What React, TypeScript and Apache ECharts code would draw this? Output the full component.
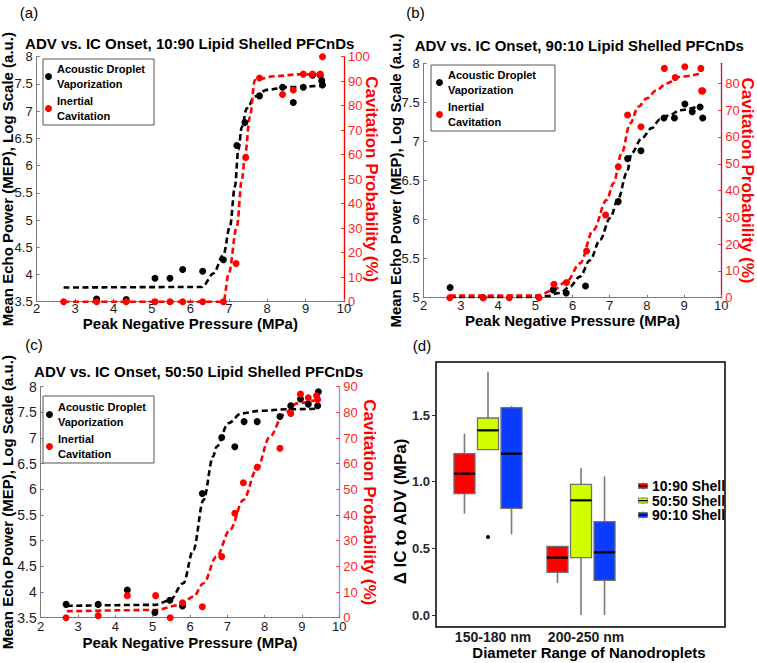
import React, { useEffect, useRef } from 'react';
import * as echarts from 'echarts';

const FONT = "'Liberation Sans', Arial, Helvetica, sans-serif";
const LEGEND_FONT = "'Liberation Sans', Arial, sans-serif";

// ---------- Panel (a): 10:90 ----------
const advA_x = [3.56, 4.33, 5.08, 5.47, 5.8, 6.32, 6.86, 7.21, 7.42, 7.8, 8.4, 8.68, 8.94, 9.18, 9.38, 9.42, 9.44];
const advA_y = [3.55, 3.54, 3.93, 3.93, 4.09, 4.06, 4.27, 6.37, 6.79, 7.28, 7.44, 7.16, 7.44, 7.66, 7.66, 7.56, 7.48];
const icA_x = [2.7, 3.56, 4.33, 5.08, 5.47, 5.8, 6.32, 6.86, 7.19, 7.44, 7.8, 8.4, 8.68, 8.94, 9.18, 9.38, 9.44];
const icA_y = [0, 0, 0, 0, 0, 0, 0, 0, 15.6, 58.9, 91.3, 84.6, 86.4, 92.9, 92.9, 92.9, 100];
const advFitA_x = [2.7, 6.3, 6.34, 6.6, 6.86, 7.03, 7.16, 7.25, 7.34, 7.47, 7.68, 7.99, 8.51, 9.46];
const advFitA_y = [3.76, 3.77, 3.8, 4.02, 4.36, 4.88, 5.61, 6.29, 6.71, 7.05, 7.27, 7.39, 7.44, 7.47];
const icFitA_x = [2.7, 6.86, 7.0, 7.21, 7.34, 7.42, 7.55, 7.68, 7.81, 8.16, 8.85, 9.42];
const icFitA_y = [0, 0, 11.6, 30.6, 49.7, 59.2, 75.5, 90.5, 91, 92, 92.8, 92.8];

// ---------- Panel (b): 90:10 ----------
const advB_x = [2.71, 3.6, 4.33, 5.08, 5.48, 5.83, 6.35, 7.23, 7.48, 7.84, 8.46, 8.74, 9.02, 9.22, 9.43, 9.5];
const advB_y = [5.13, 5.0, 4.97, 4.99, 5.1, 5.06, 5.15, 6.23, 6.78, 6.88, 7.3, 7.3, 7.48, 7.38, 7.44, 7.3];
const icB_x = [2.7, 3.6, 4.3, 5.1, 5.5, 5.84, 6.38, 6.89, 7.23, 7.48, 7.84, 8.47, 8.76, 9.02, 9.45, 9.47, 9.5];
const icB_y = [0, 0, 0, 0, 5.0, 5.7, 17.4, 30.9, 48.9, 68.2, 63.8, 85.6, 82.2, 86.2, 85.6, 77.2, 77.2];
const advFitB_x = [2.7, 5.0, 5.31, 5.66, 5.93, 6.2, 6.47, 6.74, 7.01, 7.23, 7.46, 7.59, 7.86, 8.13, 8.35, 8.62, 8.89, 9.45];
const advFitB_y = [5.01, 5.01, 5.02, 5.06, 5.14, 5.27, 5.48, 5.74, 6.02, 6.27, 6.6, 6.85, 7.04, 7.17, 7.28, 7.34, 7.4, 7.46];
const icFitB_x = [2.7, 5.0, 5.13, 5.48, 5.84, 6.2, 6.56, 6.92, 7.1, 7.32, 7.55, 7.77, 8.0, 8.26, 8.53, 8.89, 9.47];
const icFitB_y = [0.8, 0.8, 1.0, 2.9, 6.0, 12.8, 25.3, 36.5, 42.7, 53.9, 65.1, 71.3, 74.4, 77.5, 80, 82.5, 83.7];

// ---------- Panel (c): 50:50 ----------
const advC_x = [2.68, 3.54, 4.32, 5.06, 5.46, 5.8, 6.33, 6.85, 7.2, 7.45, 7.8, 8.41, 8.7, 8.96, 9.17, 9.42, 9.44];
const advC_y = [3.76, 3.76, 4.04, 3.6, 3.84, 3.73, 5.92, 7.01, 6.83, 7.32, 7.32, 7.42, 7.63, 7.76, 7.66, 7.63, 7.9];
const icC_x = [2.68, 3.54, 4.32, 5.08, 5.47, 5.8, 6.33, 6.85, 7.2, 7.43, 7.8, 8.41, 8.7, 8.96, 9.17, 9.39, 9.42];
const icC_y = [0, 0.8, 8.6, 8.6, 0, 5.8, 4.3, 23.8, 40.7, 52.6, 58.6, 66.0, 79.6, 87.1, 85.7, 86.5, 85.0];
const advFitC_x = [2.7, 5.06, 5.46, 5.82, 6.09, 6.36, 6.62, 6.71, 7.03, 7.38, 7.87, 8.59, 9.39];
const advFitC_y = [3.73, 3.75, 3.84, 4.17, 4.82, 5.79, 6.64, 6.83, 7.29, 7.48, 7.53, 7.56, 7.57];
const icFitC_x = [2.7, 5.06, 5.73, 6.09, 6.36, 6.71, 7.07, 7.43, 7.78, 8.14, 8.5, 8.86, 9.44];
const icFitC_y = [2.5, 3.0, 4.9, 8.2, 13.4, 23.8, 34.2, 45.9, 57.5, 70.5, 79.0, 83.5, 85.1];

// ---------- Panel (d): boxplots [min, Q1, median, Q3, max] ----------
const sizeCategories = ['150-180 nm', '200-250 nm', ''];
const shell1090 = [[0.76, 0.91, 1.06, 1.21, 1.36], [0.24, 0.32, 0.43, 0.515, 0.515]];
const shell5050 = [[1.24, 1.24, 1.385, 1.4775, 1.825], [0.0, 0.43, 0.86, 0.98, 1.1]];
const shell9010 = [[0.605, 0.8, 1.21, 1.555, 1.5675], [0.0, 0.26, 0.47, 0.7, 1.04]];
const outliers = [[0, 0.585]];
const shellNames = ['10:90 Shell', '50:50 Shell', '90:10 Shell'];
const shellColors = ['#ff0000', '#d2ff00', '#0a3cff'];

const pressureTicks = { min: 2, max: 10, interval: 1 };

const zip = (xs: number[], ys: number[]) => xs.map((x, i) => [x, ys[i]]);

const ADV = 'Acoustic Droplet Vaporization';
const IC = 'Inertial Cavitation';
const LEFT_NAME = 'Mean Echo Power (MEP), Log Scale (a.u.)';
const RIGHT_NAME = 'Cavitation Probability (%)';
const X_NAME = 'Peak Negative Pressure (MPa)';

const nameStyle = { fontFamily: FONT, fontWeight: 'bold' as const, fontSize: 15, color: '#000' };

function xAxisP(grid: number, gap: number, margin: number) {
  return {
    type: 'value', gridIndex: grid, ...pressureTicks,
    axisLine: { show: true, lineStyle: { color: '#7a7a7a', width: 1 } },
    axisTick: { show: true, inside: true, length: 3, lineStyle: { color: '#7a7a7a' } },
    axisLabel: { fontFamily: FONT, fontSize: 13, color: '#1a1a1a', margin },
    splitLine: { show: false },
    name: X_NAME, nameLocation: 'middle', nameGap: gap, nameMoveOverlap: false, nameTextStyle: nameStyle,
  };
}
function yLeft(grid: number, min: number, max: number, gap: number, fs = 13) {
  return {
    type: 'value', gridIndex: grid, position: 'left', min, max, interval: 0.5,
    axisLine: { show: true, lineStyle: { color: '#7a7a7a', width: 1 } },
    axisTick: { show: true, inside: true, length: 3, lineStyle: { color: '#7a7a7a' } },
    axisLabel: { fontFamily: FONT, fontSize: fs, color: '#1a1a1a', margin: 4 },
    splitLine: { show: false },
    name: LEFT_NAME, nameLocation: 'middle', nameGap: gap, nameMoveOverlap: false, nameTextStyle: nameStyle,
  };
}
function yRight(grid: number, max: number, lineColor: string, gap: number) {
  return {
    type: 'value', gridIndex: grid, position: 'right', min: 0, max, interval: 10,
    axisLine: { show: true, lineStyle: { color: lineColor, width: 1.3 } },
    axisTick: { show: true, inside: true, length: 3, lineStyle: { color: '#ff2a2a' } },
    axisLabel: { fontFamily: FONT, fontSize: 13, color: '#ff1f1f', margin: 4, showMaxLabel: max % 10 === 0 },
    splitLine: { show: false },
    name: RIGHT_NAME, nameLocation: 'middle', nameRotate: -90, nameGap: gap, nameMoveOverlap: false,
    nameTextStyle: { fontFamily: FONT, fontWeight: 'bold', fontSize: 17, color: '#ff0000' },
  };
}

function panelSeries(grid: number, yl: number, yr: number,
  ax: number[], ay: number[], ix: number[], iy: number[],
  afx: number[], afy: number[], ifx: number[], ify: number[]) {
  const dash = { type: [6, 3.5], width: 2.6 };
  return [
    { name: 'ADV fit ' + grid, type: 'line', xAxisIndex: grid, yAxisIndex: yl, data: zip(afx, afy),
      symbol: 'none', smooth: 0.35, smoothMonotone: 'x', lineStyle: { ...dash, color: '#000' }, z: 2 },
    { name: 'IC fit ' + grid, type: 'line', xAxisIndex: grid, yAxisIndex: yr, data: zip(ifx, ify),
      symbol: 'none', smooth: 0.35, smoothMonotone: 'x', lineStyle: { ...dash, color: '#ff0000' }, z: 2 },
    { name: ADV, type: 'scatter', xAxisIndex: grid, yAxisIndex: yl, data: zip(ax, ay),
      symbol: 'circle', symbolSize: 7, itemStyle: { color: '#000', opacity: 1 }, z: 3 },
    { name: IC, type: 'scatter', xAxisIndex: grid, yAxisIndex: yr, data: zip(ix, iy),
      symbol: 'circle', symbolSize: 7, itemStyle: { color: '#ff0000', opacity: 1 }, z: 3 },
  ];
}

function scatterLegend(left: number, top: number, padding: number[]) {
  return {
    left, top, orient: 'vertical', padding, itemGap: 3, itemWidth: 7, itemHeight: 7,
    backgroundColor: '#fff', borderColor: '#555', borderWidth: 1, selectedMode: false,
    data: [{ name: ADV, icon: 'circle' }, { name: IC, icon: 'circle' }],
    formatter: (n: string) => (n === ADV ? 'Acoustic Droplet\nVaporization' : 'Inertial\nCavitation'),
    textStyle: { fontFamily: LEGEND_FONT, fontWeight: 'bold', fontSize: 11, lineHeight: 14.5, color: '#000' },
  };
}

const BOX_OFFSETS = [-0.253, 0, 0.253];
const BOX_WIDTH = 0.226;
function boxRenderer(k: number, fill: string) {
  return (params: any, api: any) => {
    const cat = api.value(0);
    const band = api.size([1, 0])[0];
    const cx = api.coord([cat, 0])[0] + BOX_OFFSETS[k] * band;
    const w = BOX_WIDTH * band;
    const yy = (i: number) => api.coord([cat, api.value(i)])[1];
    const yMin = yy(1), yQ1 = yy(2), yMed = yy(3), yQ3 = yy(4), yMax = yy(5);
    const whisker = { stroke: '#7a7a7a', lineWidth: 1.6 };
    return {
      type: 'group',
      children: [
        { type: 'line', shape: { x1: cx, y1: yMax, x2: cx, y2: yQ3 }, style: whisker },
        { type: 'line', shape: { x1: cx, y1: yQ1, x2: cx, y2: yMin }, style: whisker },
        { type: 'rect', shape: { x: cx - w / 2, y: yQ3, width: w, height: yQ1 - yQ3 },
          style: { fill, stroke: '#707070', lineWidth: 1.3 } },
        { type: 'line', shape: { x1: cx - w / 2, y1: yMed, x2: cx + w / 2, y2: yMed },
          style: { stroke: '#000', lineWidth: 2.2 } },
      ],
    };
  };
}

const keyIcon = (fill: string) =>
  'image://data:image/svg+xml;charset=utf-8,' +
  encodeURIComponent(
    `<svg xmlns="http://www.w3.org/2000/svg" width="20" height="16" viewBox="0 0 20 16"><line x1="10" y1="0" x2="10" y2="16" stroke="#888" stroke-width="2"/><rect x="1" y="3" width="18" height="10" fill="${fill}" stroke="#666" stroke-width="1.5"/><line x1="1" y1="8" x2="19" y2="8" stroke="#000" stroke-width="2.5"/></svg>`
  );

function txt(text: string, x: number, y: number, size: number, bold: boolean, rotation = 0) {
  return {
    type: 'text', x, y, rotation, silent: true,
    style: {
      text, fill: '#000', fontFamily: FONT, fontSize: size, fontWeight: bold ? 'bold' : 'normal',
      align: 'center', verticalAlign: 'middle', textAlign: 'center', textVerticalAlign: 'middle',
    },
  };
}

export default function App() {
  const ref = useRef<HTMLDivElement>(null);
  useEffect(() => {
    if (!ref.current) return;
    const chart = echarts.init(ref.current, undefined, { renderer: 'svg' });
    const boxData = [shell1090, shell5050, shell9010];
    const g = { outerBoundsMode: 'none', containLabel: false };
    const option: any = {
      animation: false,
      backgroundColor: '#fff',
      textStyle: { fontFamily: FONT },
      grid: [
        { ...g, left: 36.7, top: 56.7, width: 307.3, height: 245 },
        { ...g, left: 423.7, top: 63.3, width: 297.6, height: 234.4 },
        { ...g, left: 40.7, top: 386.7, width: 298.6, height: 231 },
        { ...g, left: 441.5, top: 362, width: 279, height: 265 },
      ],
      xAxis: [
        xAxisP(0, 14, 0),
        xAxisP(1, 15.5, 1.5),
        xAxisP(2, 17, 2),
        {
          type: 'category', gridIndex: 3, data: sizeCategories, boundaryGap: true,
          axisLine: { show: false }, axisTick: { show: false },
          axisLabel: { interval: 0, fontFamily: FONT, fontWeight: 'bold', fontSize: 14, color: '#1a1a1a', margin: 3, padding: [0, 0, 0, 10] },
          splitLine: { show: false },
          name: 'Diameter Range of Nanodroplets', nameLocation: 'middle', nameGap: 18, nameMoveOverlap: false,
          nameTextStyle: { ...nameStyle, padding: [0, 0, 0, 16] },
        },
      ],
      yAxis: [
        yLeft(0, 3.5, 8, 22),
        yRight(0, 100, '#ff0000', 19),
        yLeft(1, 5, 8, 21),
        yRight(1, 87.5, '#c8104a', 18),
        yLeft(2, 3.5, 8, 26, 14),
        yRight(2, 90, '#8c8cff', 22),
        {
          type: 'value', gridIndex: 3, min: -0.09, max: 1.8975, offset: 5.5,
          axisLine: { show: false },
          axisTick: { show: true, length: 4, lineStyle: { color: '#333' }, customValues: [0, 0.5, 1, 1.5] },
          axisLabel: { fontFamily: FONT, fontWeight: 'bold', fontSize: 13, color: '#2a2a2a', margin: 6,
            customValues: [0, 0.5, 1, 1.5], formatter: (v: number) => v.toFixed(1) },
          splitLine: { show: false },
        },
      ],
      legend: [
        scatterLegend(43, 59, [3, 9, 2, 2]),
        scatterLegend(431, 65, [3, 19, 2, 5]),
        scatterLegend(43, 396, [4, 8, 2, 3]),
        {
          left: 638, top: 479, orient: 'vertical', padding: 0, itemGap: 0.5, itemWidth: 10, itemHeight: 8,
          selectedMode: false,
          data: shellNames.map((n, i) => ({ name: n, icon: keyIcon(shellColors[i]) })),
          textStyle: { fontFamily: FONT, fontWeight: 'bold', fontSize: 14, lineHeight: 14, color: '#000', padding: [0, 0, 0, -1] },
        },
      ],
      graphic: [
        txt('(a)', 29, 12, 15, false),
        txt('(b)', 415.5, 12, 15, false),
        txt('(c)', 34, 344, 15, false),
        txt('(d)', 422, 345, 15, false),
        txt('ADV vs. IC Onset, 10:90 Lipid Shelled PFCnDs', 189.7, 43.3, 15, true),
        txt('ADV vs. IC Onset, 90:10 Lipid Shelled PFCnDs', 579.3, 45, 15, true),
        txt('ADV vs. IC Onset, 50:50 Lipid Shelled PFCnDs', 198.7, 371.7, 15, true),
        txt('\u0394 IC to ADV (MPa)', 400.7, 511.5, 17, true, Math.PI / 2),
        {
          type: 'rect', silent: true, z: 10,
          shape: { x: 436, y: 362, width: 289, height: 265 },
          style: { fill: 'none', stroke: '#000', lineWidth: 1.5 },
        },
      ],
      series: [
        ...panelSeries(0, 0, 1, advA_x, advA_y, icA_x, icA_y, advFitA_x, advFitA_y, icFitA_x, icFitA_y),
        ...panelSeries(1, 2, 3, advB_x, advB_y, icB_x, icB_y, advFitB_x, advFitB_y, icFitB_x, icFitB_y),
        ...panelSeries(2, 4, 5, advC_x, advC_y, icC_x, icC_y, advFitC_x, advFitC_y, icFitC_x, icFitC_y),
        ...boxData.map((rows, k) => ({
          name: shellNames[k], type: 'custom', xAxisIndex: 3, yAxisIndex: 6,
          itemStyle: { color: shellColors[k] },
          encode: { x: 0, y: [1, 2, 3, 4, 5] },
          data: rows.map((r, i) => [i, ...r]),
          renderItem: boxRenderer(k, shellColors[k]),
        })),
        {
          name: 'Outlier', type: 'scatter', xAxisIndex: 3, yAxisIndex: 6, data: outliers,
          symbolSize: 4, itemStyle: { color: '#000', opacity: 1 },
        },
      ],
    };
    chart.setOption(option);
    return () => chart.dispose();
  }, []);
  return <div ref={ref} style={{ position: 'fixed', left: 0, top: 0, width: 757, height: 663, background: '#fff' }} />;
}
